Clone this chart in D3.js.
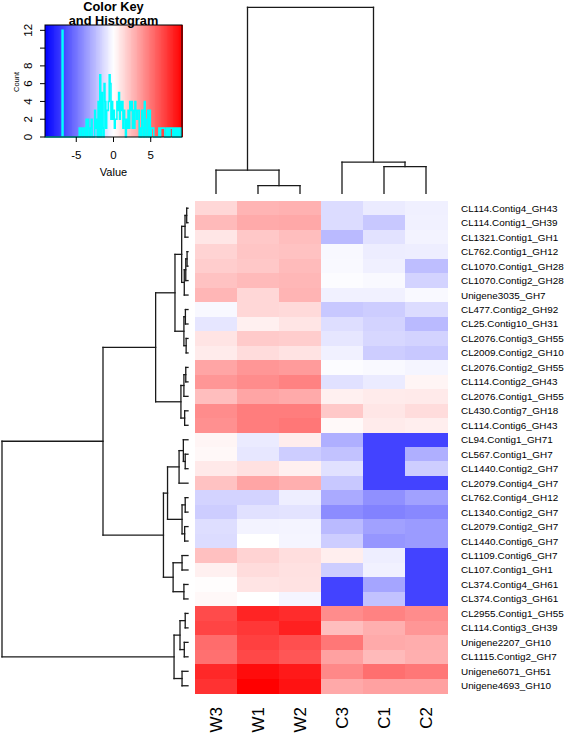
<!DOCTYPE html>
<html><head><meta charset="utf-8">
<script src="https://cdn.jsdelivr.net/npm/d3@7"></script>
<style>
body{margin:0;background:#fff}
svg{display:block}
text{font-family:"Liberation Sans",Arial,Helvetica,sans-serif;fill:#000}
</style>
</head><body>
<svg id="chart" width="567" height="735"></svg>
<script>
// ---------------- data ----------------
const colLabels = ["W3","W1","W2","C3","C1","C2"];
const rowLabels = [
 "CL114.Contig4_GH43","CL114.Contig1_GH39","CL1321.Contig1_GH1","CL762.Contig1_GH12",
 "CL1070.Contig1_GH28","CL1070.Contig2_GH28","Unigene3035_GH7","CL477.Contig2_GH92",
 "CL25.Contig10_GH31","CL2076.Contig3_GH55","CL2009.Contig2_GH10","CL2076.Contig2_GH55",
 "CL114.Contig2_GH43","CL2076.Contig1_GH55","CL430.Contig7_GH18","CL114.Contig6_GH43",
 "CL94.Contig1_GH71","CL567.Contig1_GH7","CL1440.Contig2_GH7","CL2079.Contig4_GH7",
 "CL762.Contig4_GH12","CL1340.Contig2_GH7","CL2079.Contig2_GH7","CL1440.Contig6_GH7",
 "CL1109.Contig6_GH7","CL107.Contig1_GH1","CL374.Contig4_GH61","CL374.Contig3_GH61",
 "CL2955.Contig1_GH55","CL114.Contig3_GH39","Unigene2207_GH10","CL1115.Contig2_GH7",
 "Unigene6071_GH51","Unigene4693_GH10"];
// values per row, columns in order W3, W1, W2, C3, C1, C2
const values = [
 [1.44, 2.70, 2.80, -1.26, -0.72, -0.54],
 [2.50, 3.07, 3.15, -1.26, -2.00, -0.50],
 [0.90, 2.00, 2.35, -2.50, -1.05, -0.45],
 [1.60, 2.10, 2.20, -0.25, -0.66, -0.60],
 [1.80, 2.00, 2.45, -0.20, -0.54, -2.35],
 [2.20, 2.50, 2.60, -0.10, -0.20, -1.60],
 [2.65, 1.45, 2.70, -0.50, -0.50, -0.20],
 [-0.25, 1.44, 1.33, -2.00, -1.80, -1.26],
 [-0.90, 0.54, 0.95, -1.18, -1.60, -2.50],
 [0.98, 1.90, 1.80, -0.90, -1.44, -1.60],
 [0.72, 1.26, 1.00, -0.50, -1.80, -2.00],
 [3.25, 3.80, 3.60, -0.10, -0.20, -0.36],
 [3.80, 4.15, 4.50, -1.10, -0.72, 0.36],
 [2.35, 3.25, 3.07, 0.54, 0.72, 0.76],
 [4.15, 4.70, 4.70, 2.00, 0.90, 1.26],
 [4.00, 4.70, 4.90, 0.20, 0.72, 0.62],
 [0.36, -0.72, 0.66, -2.90, -6.80, -6.80],
 [0.25, -0.85, -1.80, -2.20, -6.80, -2.90],
 [0.80, 1.10, 0.54, -1.10, -6.80, -1.80],
 [2.20, 3.25, 2.90, -2.00, -6.80, -6.80],
 [-1.60, -1.60, -0.62, -3.07, -4.00, -3.40],
 [-1.80, -1.10, -1.00, -4.15, -4.50, -4.30],
 [-1.20, -0.43, -0.40, -2.50, -3.40, -3.60],
 [-1.26, 0.00, -0.36, -1.80, -3.80, -3.60],
 [2.28, 1.60, 1.20, 0.60, -0.60, -6.80],
 [0.54, 1.26, 1.10, -1.80, -0.50, -6.80],
 [0.07, 0.96, 1.05, -6.80, -3.25, -6.80],
 [0.25, 0.00, -0.36, -6.80, -2.20, -6.80],
 [6.50, 7.90, 7.60, 4.15, 4.50, 4.15],
 [6.75, 7.20, 8.05, 2.35, 2.90, 3.80],
 [5.30, 6.90, 6.35, 4.90, 3.07, 2.95],
 [5.15, 6.60, 6.10, 3.40, 2.50, 2.90],
 [7.75, 8.75, 8.30, 4.30, 5.20, 4.90],
 [7.40, 9.20, 8.55, 3.12, 3.40, 3.40]];
// dendrograms: [height, left, right]; leaves are row / column indices
const rowTree = [100,
  [45.7,
    [17.4,
      [7.0,
        [3.4, [1.6, [0.7, 0, 1], 2], [2.0, [1.2, [0.5, 3, 4], 5], 6]],
        [2.2, [1.4, 7, 8], [1.0, 9, 10]]],
      [3.8, [2.2, [1.2, 11, 12], 13], [1.8, 14, 15]]],
    [13.2,
      [11.0,
        [4.8, [2.5, 16, [1.5, 17, 18]], 19],
        [3.2, [1.5, 20, 21], [1.8, 22, 23]]],
      [8.0, [3.2, 24, 25], [2.2, 26, 27]]]],
  [7.5, [4.3, [1.5, 28, 29], [2.0, 30, 31]], [3.2, 32, 33]]];
const colTree = [100, [12.5, 0, [4.1, 1, 2]], [16.8, 3, [14.3, 4, 5]]];
const keyXTicks = [-5, 0, 5];
const keyYTicks = [0, 2, 4, 6, 8, 10, 12];
const keyYLabels = ["0", "2", "4", "6", "8", "", "12"];
const nBreaks = 160;

// ---------------- drawing ----------------
const svg = d3.select("#chart");
const maxAbs = d3.max(values.flat(), v => Math.abs(v));
const color = d3.scaleLinear().domain([-maxAbs, 0, maxAbs])
  .range(["#0000ff", "#ffffff", "#ff0000"]).interpolate(d3.interpolateRgb).clamp(true);

const x = d3.scaleBand().domain(d3.range(colLabels.length)).range([195, 447]);
const y = d3.scaleBand().domain(d3.range(rowLabels.length)).range([201, 693]);

// heatmap cells
const cells = [];
values.forEach((r, i) => r.forEach((v, j) => cells.push({i, j, v})));
svg.append("g").attr("shape-rendering", "crispEdges")
  .selectAll("rect").data(cells).join("rect")
  .attr("x", d => x(d.j)).attr("y", d => y(d.i))
  .attr("width", x.bandwidth() + 0.5).attr("height", y.bandwidth() + 0.5)
  .attr("fill", d => color(d.v));

// row labels
svg.append("g").selectAll("text").data(rowLabels).join("text")
  .attr("x", 461).attr("y", (d, i) => y(i) + y.bandwidth() / 2)
  .attr("dy", "0.35em").attr("font-size", "9.9px").text(d => d);

// column labels
svg.append("g").selectAll("text").data(colLabels).join("text")
  .attr("transform", (d, j) => `translate(${x(j) + x.bandwidth() / 2 + 6},707) rotate(-90)`)
  .attr("text-anchor", "end").attr("font-size", "17px").text(d => d);

// dendrogram helper
function layout(node, leafPos) {
  if (typeof node === "number") return {h: 0, p: leafPos(node), kids: []};
  const kids = [layout(node[1], leafPos), layout(node[2], leafPos)];
  return {h: node[0], p: (kids[0].p + kids[1].p) / 2, kids};
}
function segments(n, out) {
  if (!n.kids.length) return out;
  const [a, b] = n.kids;
  out.push([n.h, a.p, n.h, b.p]);
  out.push([n.h, a.p, a.h, a.p]);
  out.push([n.h, b.p, b.h, b.p]);
  segments(a, out); segments(b, out);
  return out;
}
const rowH = d3.scaleLinear().domain([0, 100]).range([188, 2]);
const colH = d3.scaleLinear().domain([0, 100]).range([193.3, 7.3]);

const rowSeg = segments(layout(rowTree, i => y(i) + y.bandwidth() / 2), []);
svg.append("g").selectAll("line").data(rowSeg).join("line")
  .attr("x1", d => rowH(d[0])).attr("y1", d => d[1])
  .attr("x2", d => rowH(d[2])).attr("y2", d => d[3])
  .attr("stroke", "#1a1a1a").attr("stroke-width", 1.3).attr("stroke-linecap", "square");

const colSeg = segments(layout(colTree, j => x(j) + x.bandwidth() / 2), []);
svg.append("g").selectAll("line").data(colSeg).join("line")
  .attr("x1", d => d[1]).attr("y1", d => colH(d[0]))
  .attr("x2", d => d[3]).attr("y2", d => colH(d[2]))
  .attr("stroke", "#1a1a1a").attr("stroke-width", 1.3).attr("stroke-linecap", "square");

// ---------------- color key ----------------
const breaks = d3.range(nBreaks + 1).map(i => -maxAbs + 2 * maxAbs * i / nBreaks);
const kx = d3.scaleLinear().domain([-maxAbs, maxAbs]).range([45, 182]);
const bins = d3.bin().domain([-maxAbs, maxAbs + 1e-9]).thresholds(breaks.slice(1, -1))(values.flat());
const counts = bins.map(b => b.length);
const ky = d3.scaleLinear().domain([0, d3.max(counts) * 1.05]).range([137, 25]);

const key = svg.append("g");
key.append("g").attr("shape-rendering", "crispEdges")
  .selectAll("rect").data(d3.range(nBreaks)).join("rect")
  .attr("x", i => kx(breaks[i])).attr("y", 25)
  .attr("width", i => kx(breaks[i + 1]) - kx(breaks[i]) + 0.6).attr("height", 112)
  .attr("fill", i => color((breaks[i] + breaks[i + 1]) / 2));

const histPts = counts.map((c, i) => [breaks[i], c]).concat([[breaks[nBreaks], counts[nBreaks - 1]]]);
key.append("path")
  .attr("d", d3.line().x(d => kx(d[0])).y(d => ky(d[1])).curve(d3.curveStepAfter)(histPts))
  .attr("fill", "none").attr("stroke", "#00ffff").attr("stroke-width", 1.6);

key.append("rect").attr("x", 45).attr("y", 25).attr("width", 137).attr("height", 112)
  .attr("fill", "none").attr("stroke", "#000").attr("stroke-width", 1);

// x axis of key
const xa = key.append("g");
xa.selectAll("line").data(keyXTicks).join("line")
  .attr("x1", d => kx(d)).attr("x2", d => kx(d)).attr("y1", 137).attr("y2", 142)
  .attr("stroke", "#000");
xa.selectAll("text").data(keyXTicks).join("text")
  .attr("x", d => kx(d)).attr("y", 159).attr("text-anchor", "middle")
  .attr("font-size", "11.5px").text(d => String(d));
key.append("text").attr("x", 113.5).attr("y", 176).attr("text-anchor", "middle")
  .attr("font-size", "11px").text("Value");

// y axis of key
const ya = key.append("g");
ya.selectAll("line").data(keyYTicks).join("line")
  .attr("x1", 45).attr("x2", 40).attr("y1", d => ky(d)).attr("y2", d => ky(d))
  .attr("stroke", "#000");
ya.selectAll("text").data(keyYTicks).join("text")
  .attr("transform", d => `translate(32,${ky(d)}) rotate(-90)`)
  .attr("text-anchor", "middle").attr("font-size", "11.5px")
  .text((d, i) => keyYLabels[i]);
key.append("text").attr("transform", "translate(19,82) rotate(-90)")
  .attr("text-anchor", "middle").attr("font-size", "7.5px").text("Count");

// title
key.append("text").attr("x", 113.5).attr("y", 10.5).attr("text-anchor", "middle")
  .attr("font-size", "12.8px").attr("font-weight", "bold").text("Color Key");
key.append("text").attr("x", 113.5).attr("y", 24.5).attr("text-anchor", "middle")
  .attr("font-size", "12.8px").attr("font-weight", "bold").text("and Histogram");
</script>
</body></html>
